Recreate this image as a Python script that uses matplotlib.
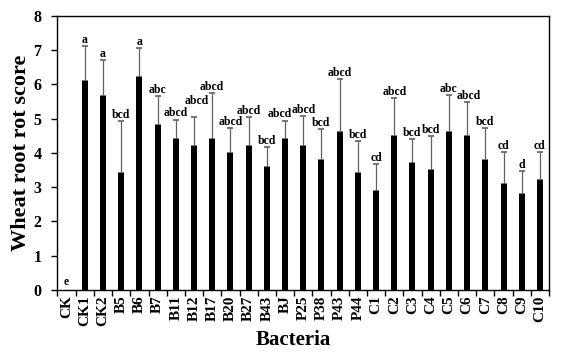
import matplotlib
matplotlib.use("Agg")
import matplotlib.pyplot as plt
import numpy as np

categories = ["CK", "CK1", "CK2", "B5", "B6", "B7", "B11", "B12", "B17", "B20",
              "B27", "B43", "BJ", "P25", "P38", "P43", "P44", "C1", "C2", "C3",
              "C4", "C5", "C6", "C7", "C8", "C9", "C10"]
means = [0.0, 6.1, 5.67, 3.4, 6.2, 4.8, 4.4, 4.2, 4.4, 4.0,
         4.2, 3.6, 4.4, 4.2, 3.8, 4.6, 3.4, 2.9, 4.5, 3.7,
         3.5, 4.6, 4.5, 3.8, 3.1, 2.8, 3.2]
err_tops = [0.0, 7.1, 6.7, 4.93, 7.05, 5.65, 4.97, 5.05, 5.74, 4.72,
            5.05, 4.17, 4.94, 5.06, 4.68, 6.15, 4.33, 3.66, 5.6, 4.41,
            4.5, 5.69, 5.49, 4.72, 4.01, 3.47, 4.01]
letters = ["e", "a", "a", "bcd", "a", "abc", "abcd", "abcd", "abcd", "abcd",
           "abcd", "bcd", "abcd", "abcd", "bcd", "abcd", "bcd", "cd", "abcd", "bcd",
           "bcd", "abc", "abcd", "bcd", "cd", "d", "cd"]

# label placement nudges (layout only): index -> (dx in categories, dy in data units)
nudges = {7: (0.15, 0.27), 12: (-0.3, 0.0), 22: (0.08, 0.0)}

plt.rcParams['font.family'] = ['Liberation Serif', 'DejaVu Serif']
plt.rcParams['font.weight'] = 'bold'

fig = plt.figure(figsize=(5.62, 3.61), dpi=100)
ax = fig.add_axes([0.1023, 0.1967, 0.8746, 0.760])

x = np.arange(len(categories))
errs = np.array(err_tops) - np.array(means)
ax.bar(x, means, width=0.33, color='black', zorder=2)
ax.errorbar(x[1:], means[1:], yerr=[np.zeros(len(x) - 1), errs[1:]], fmt='none',
            ecolor='#606060', elinewidth=0.9, capsize=2.2, capthick=1.2, zorder=1)

for i, (t, lab) in enumerate(zip(err_tops, letters)):
    dx, dy = nudges.get(i, (0.0, 0.0))
    y = t + 0.09 + dy if i > 0 else 0.15
    ax.text(i + dx, y, lab, ha='center', va='baseline', fontsize=8.5, fontweight='bold')

ax.set_xlim(-0.5, len(categories) - 0.5)
ax.set_ylim(0, 8)
ax.set_yticks(range(0, 9))
ax.set_xticks(x)
ax.set_xticklabels(categories, rotation=90, fontsize=11, fontweight='bold')
ax.tick_params(axis='x', which='major', length=0, pad=4)
ax.set_xticks(np.arange(-0.5, len(categories)), minor=True)
ax.tick_params(axis='x', which='minor', length=4, direction='out', width=1)
ax.tick_params(axis='y', length=4, direction='out', labelsize=11.5, width=1, pad=7.5)
for lbl in ax.get_yticklabels():
    lbl.set_fontweight('bold')
for s in ax.spines.values():
    s.set_linewidth(1.0)

ax.set_ylabel('Wheat root rot score', fontsize=16, fontweight='bold')
ax.yaxis.set_label_coords(-0.054, 0.5)
ax.set_xlabel('Bacteria', fontsize=15, fontweight='bold')
ax.xaxis.set_label_coords(0.48, -0.146)

fig.savefig('out.png', dpi=100)
